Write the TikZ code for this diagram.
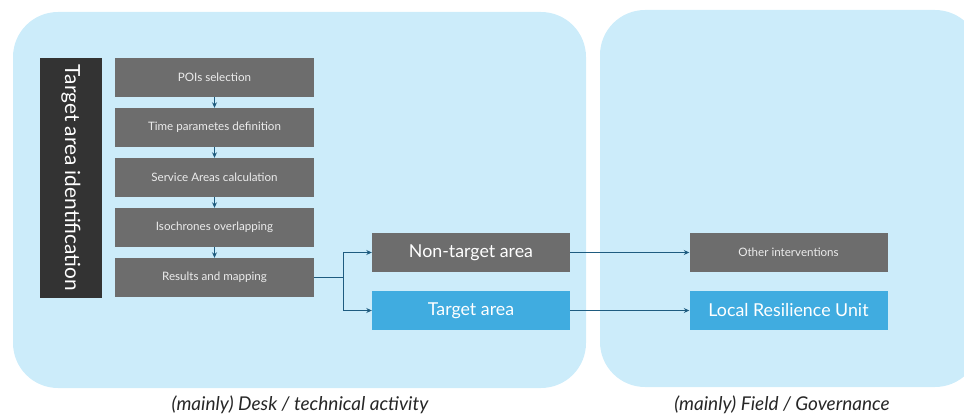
\documentclass[tikz,border=0pt]{standalone}
\usepackage{fontspec}
\setmainfont{Lato}
\usetikzlibrary{arrows.meta}
\definecolor{panelblue}{RGB}{204,236,250}
\definecolor{boxgray}{RGB}{109,109,109}
\definecolor{bardark}{RGB}{51,51,51}
\definecolor{boxblue}{RGB}{64,172,224}
\definecolor{linkcol}{RGB}{30,92,128}
\definecolor{boxtext}{RGB}{236,236,236}
\tikzset{
  panel/.style={fill=panelblue, rounded corners=45pt},
  stepbox/.style={rectangle, fill=boxgray, text=boxtext, minimum width=199pt,
    minimum height=39pt, inner sep=0pt, font=\fontsize{11.6}{13}\selectfont},
  outbox/.style={rectangle, minimum width=198pt, minimum height=39pt, inner sep=0pt,
    text=white, font=\fontsize{17.8}{20}\selectfont},
  graybig/.style={outbox, fill=boxgray},
  bluebig/.style={outbox, fill=boxblue},
  link/.style={draw=linkcol, line width=1.4pt, -{Stealth[length=5.5pt,width=5pt]}},
  caption/.style={font=\fontsize{19}{22}\selectfont\itshape, text=black!85}
}
\begin{document}
\begin{tikzpicture}[x=1pt,y=-1pt]
\useasboundingbox (0,0) rectangle (964,420);
\begin{scope}
  \clip (0,0) rectangle (964,420);
  % two background panels
  \fill[panel] (13,12) rectangle (586,388);
  \fill[panel] (600,10) rectangle (980,387);
\end{scope}

% vertical title bar
\node[rectangle, fill=bardark, minimum width=62pt, minimum height=240pt, inner sep=0pt]
  (bar) at (71,178) {};
\node[rotate=-90, text=white, font=\fontsize{20.8}{24}\selectfont] (bartext) at (bar.center)
  {Target area identification};

% processing steps
\node[stepbox] (pois) at (214.5,77.5) {POIs selection};
\node[stepbox] (time) at (214.5,127.5) {Time parametes definition};
\node[stepbox] (serv) at (214.5,177.5) {Service Areas calculation};
\node[stepbox] (iso)  at (214.5,227.5) {Isochrones overlapping};
\node[stepbox] (res)  at (214.5,277.5) {Results and mapping};

\draw[link] (pois) -- (time);
\draw[link] (time) -- (serv);
\draw[link] (serv) -- (iso);
\draw[link] (iso) -- (res);

% outcomes
\node[graybig] (non) at (471,252.5) {Non-target area};
\node[bluebig] (tgt) at (471,310.5) {Target area};
\node[graybig, font=\fontsize{11.6}{13}\selectfont, text=boxtext] (oth) at (788.5,252.5) {Other interventions};
\node[bluebig] (lru) at (788.5,310.5) {Local Resilience Unit};

\coordinate (split) at ([xshift=29pt]res.east);
\draw[draw=linkcol, line width=1.4pt] (res.east) -- (split);
\draw[link] (split) |- (non.west);
\draw[link] (split) |- (tgt.west);
\draw[link] (non) -- (oth);
\draw[link] (tgt) -- (lru);

% captions
\node[caption] (capl) at (300,405) {(mainly) Desk / technical activity};
\node[caption] (capr) at (782,405) {(mainly) Field / Governance};
\end{tikzpicture}
\end{document}
